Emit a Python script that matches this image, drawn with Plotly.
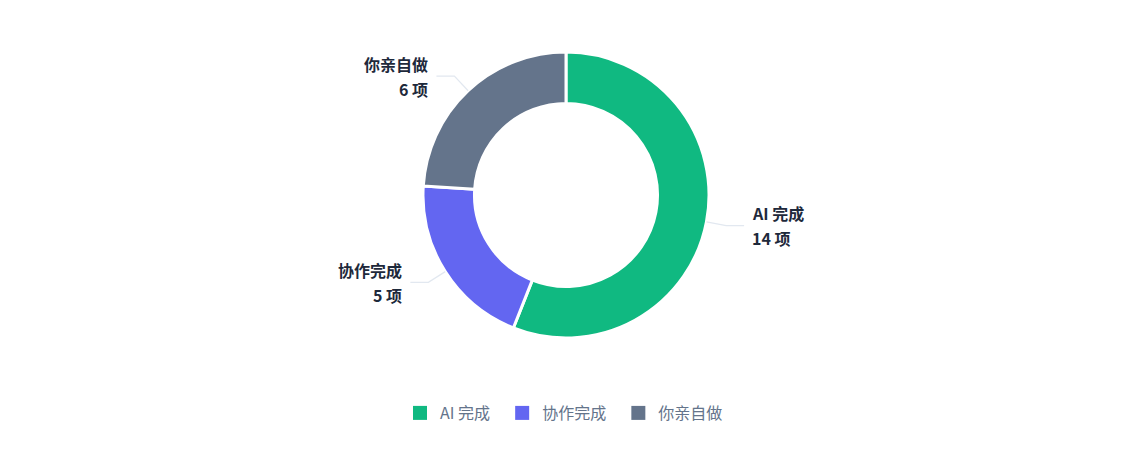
import math
import plotly.graph_objects as go

# data
labels = ["AI 完成", "协作完成", "你亲自做"]
values = [14, 5, 6]
colors = ["#10b981", "#6366f1", "#64748b"]
unit = "项"

W, H = 1135, 460
cx, cy, R = 566, 195, 143   # pie centre / radius in pixels
len1, len2, gap = 20, 18, 6


def px(x, y):
    return x / W, 1 - y / H


fig = go.Figure()
fig.add_trace(go.Pie(
    labels=labels, values=values, hole=0.64, sort=False,
    direction="clockwise", rotation=0, showlegend=False,
    marker=dict(colors=colors, line=dict(color="white", width=3)),
    textinfo="none", hoverinfo="label+value+percent",
    domain=dict(x=[(cx - R) / W, (cx + R) / W], y=[1 - (cy + R) / H, 1 - (cy - R) / H]),
))

# legend entries (bigger square swatches than the pie legend gives)
for name, col in zip(labels, colors):
    fig.add_trace(go.Scatter(x=[None], y=[None], mode="markers", name=name + "\u00a0\u00a0",
                             marker=dict(symbol="square", size=14, color=col),
                             hoverinfo="skip"))

total = sum(values)
cum = 0
for name, v in zip(labels, values):
    mid = (cum + v / 2) / total * 2 * math.pi
    cum += v
    s, c = math.sin(mid), math.cos(mid)
    x0, y0 = cx + R * s, cy - R * c
    x1, y1 = cx + (R + len1) * s, cy - (R + len1) * c
    side = 1 if s >= 0 else -1
    x2 = x1 + side * len2
    p0, p1, p2 = px(x0, y0), px(x1, y1), px(x2, y1)
    fig.add_shape(type="path", xref="paper", yref="paper",
                  path=f"M {p0[0]},{p0[1]} L {p1[0]},{p1[1]} L {p2[0]},{p2[1]}",
                  line=dict(color="#e2e8f0", width=1.2))
    tx = x2 + side * gap
    for txt, dy in [(name, -12.5), (f"{v} {unit}", 12.5)]:
        fig.add_annotation(x=tx / W, y=1 - (y1 + dy) / H, xref="paper", yref="paper",
                           text=f"<b>{txt}</b>", showarrow=False,
                           xanchor="left" if side > 0 else "right", yanchor="middle",
                           font=dict(size=16, color="#1e293b"))

fig.update_layout(
    width=W, height=H,
    margin=dict(l=0, r=0, t=0, b=0),
    paper_bgcolor="white", plot_bgcolor="white",
    font=dict(family="Noto Sans CJK SC, Noto Sans, sans-serif"),
    xaxis=dict(visible=False), yaxis=dict(visible=False),
    showlegend=True,
    legend=dict(orientation="h", x=0.5, xanchor="center", y=1 - 413 / H, yanchor="middle",
                font=dict(size=16, color="#64748b"), itemwidth=30, itemsizing="trace",
                traceorder="normal", itemclick=False, itemdoubleclick=False),
)

fig.write_html("out.html", config={"displayModeBar": False},
               post_script="document.body.style.margin='0px';")
